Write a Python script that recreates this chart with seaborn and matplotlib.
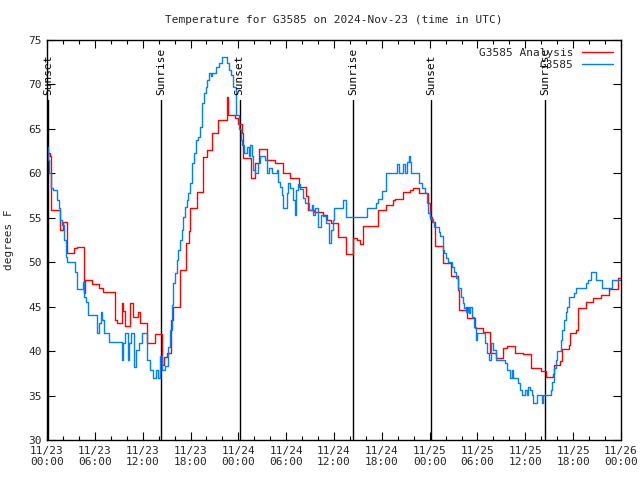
import matplotlib
matplotlib.use("Agg")
import matplotlib.pyplot as plt
from matplotlib.ticker import MultipleLocator
import seaborn as sns
import pandas as pd

sns.set_theme(style="ticks")
plt.rcParams["font.family"] = ["DejaVu Sans Mono", "DejaVu Sans"]

# hours since 2024-11-23 00:00 UTC, temperature in degrees F
analysis_hours = [
    0.0, 0.13, 0.38, 0.5, 1.63, 2.0, 2.5, 3.4, 3.75, 4.6,
    4.75, 5.65, 6.5, 7.0, 8.5, 8.8, 9.4, 9.5, 9.8, 10.4,
    10.8, 11.4, 11.65, 12.55, 13.55, 14.4, 14.7, 15.05, 15.55, 15.8,
    16.7, 17.45, 17.75, 17.95, 18.8, 19.6, 20.1, 20.7, 21.45, 22.6,
    22.7, 23.6, 24.0, 24.45, 24.6, 25.6, 26.1, 26.6, 27.6, 28.6,
    29.6, 30.5, 31.6, 32.5, 32.75, 33.5, 34.6, 35.1, 35.6, 36.5,
    37.5, 38.4, 38.9, 39.3, 39.65, 41.5, 42.5, 43.4, 43.65, 44.65,
    45.55, 45.9, 46.7, 47.8, 48.05, 48.3, 48.7, 49.7, 50.7, 51.55,
    51.7, 52.55, 52.7, 53.7, 54.7, 55.6, 56.35, 57.2, 57.7, 58.7,
    59.7, 60.7, 62.0, 62.6, 63.5, 63.6, 64.4, 64.6, 65.5, 65.6,
    66.4, 66.6, 67.6, 68.5, 69.5, 70.5, 71.6, 72.0,
]
analysis_temp = [
    61.8, 62.3, 62.0, 55.9, 53.6, 54.5, 51.0, 51.6, 51.7, 46.5,
    48.0, 47.5, 47.1, 46.6, 43.5, 43.2, 45.4, 44.5, 42.8, 45.4,
    43.8, 44.4, 43.2, 40.9, 41.9, 38.4, 39.3, 39.8, 43.5, 45.0,
    49.1, 52.2, 53.5, 56.1, 57.9, 61.8, 62.6, 64.5, 66.0, 68.6,
    66.6, 66.2, 65.6, 64.5, 61.7, 59.5, 61.2, 62.7, 61.5, 61.2,
    60.0, 59.5, 58.5, 57.5, 55.9, 55.6, 55.3, 54.7, 54.4, 52.8,
    50.9, 52.7, 52.5, 52.1, 54.1, 55.9, 56.4, 57.0, 57.1, 57.9,
    58.1, 58.4, 57.8, 56.7, 55.1, 54.5, 51.8, 49.9, 48.5, 46.9,
    44.6, 45.0, 43.7, 42.6, 42.2, 39.8, 39.2, 40.4, 40.6, 39.8,
    39.7, 38.1, 37.8, 37.1, 37.4, 38.4, 38.9, 40.2, 40.7, 42.0,
    42.4, 44.8, 45.5, 46.0, 46.3, 47.0, 48.2, 48.2,
]

obs_hours = [
    0.0, 0.13, 0.25, 0.5, 0.75, 1.25, 1.5, 1.63, 1.88, 2.13,
    2.38, 2.5, 3.5, 3.75, 4.5, 4.63, 4.88, 5.13, 6.25, 6.5,
    6.75, 6.88, 7.13, 7.75, 9.38, 9.5, 9.75, 10.13, 10.25, 10.5,
    10.88, 11.13, 11.5, 11.88, 12.5, 12.88, 13.25, 13.63, 13.88, 14.13,
    14.38, 14.75, 15.13, 15.38, 15.63, 15.75, 16.0, 16.25, 16.38, 16.63,
    16.88, 17.0, 17.25, 17.5, 17.63, 17.88, 18.13, 18.25, 18.5, 18.75,
    18.88, 19.13, 19.38, 19.5, 19.75, 20.0, 20.13, 20.38, 20.63, 20.75,
    21.25, 21.63, 22.0, 22.63, 22.88, 23.13, 23.38, 23.75, 24.13, 24.38,
    24.5, 24.75, 25.13, 25.38, 25.5, 25.75, 25.88, 26.13, 26.5, 26.75,
    27.38, 27.63, 27.88, 28.25, 28.88, 29.0, 29.25, 29.5, 29.63, 30.13,
    30.25, 30.5, 30.88, 31.13, 31.25, 31.5, 31.75, 32.13, 32.38, 32.88,
    33.25, 33.38, 33.63, 34.0, 34.38, 34.63, 35.0, 35.38, 35.63, 35.88,
    36.0, 37.13, 37.5, 40.13, 41.25, 41.5, 42.0, 42.5, 43.88, 44.13,
    44.63, 44.88, 45.13, 45.38, 45.5, 45.63, 46.63, 47.0, 47.38, 47.63,
    47.75, 48.0, 48.38, 48.5, 49.13, 49.25, 49.63, 49.75, 50.0, 50.25,
    50.75, 51.0, 51.25, 51.5, 51.88, 52.13, 52.25, 52.5, 52.75, 52.88,
    53.0, 53.25, 53.5, 53.75, 54.0, 54.88, 55.25, 55.5, 55.75, 56.0,
    56.38, 57.5, 57.75, 58.13, 58.38, 58.5, 59.13, 59.38, 59.63, 60.0,
    60.25, 60.38, 60.63, 60.88, 61.0, 61.5, 62.13, 62.25, 63.25, 63.38,
    63.63, 63.88, 64.0, 64.5, 64.63, 64.88, 65.13, 65.25, 65.5, 66.13,
    66.38, 67.63, 67.88, 68.25, 68.88, 69.63, 70.88, 72.0,
]
obs_temp = [
    63.0, 61.5, 60.0, 58.4, 58.1, 57.0, 56.1, 54.7, 54.2, 52.5,
    50.6, 50.0, 48.9, 47.0, 47.8, 46.1, 45.5, 44.1, 42.0, 43.2,
    44.4, 43.5, 42.0, 41.0, 39.0, 40.9, 42.0, 39.0, 40.9, 42.0,
    38.2, 40.1, 40.9, 42.0, 39.0, 37.9, 37.0, 37.9, 37.0, 39.4,
    37.9, 38.3, 40.5, 42.4, 45.2, 47.7, 48.8, 50.3, 51.4, 52.5,
    53.6, 55.1, 56.2, 57.0, 57.8, 58.9, 60.4, 61.2, 62.3, 63.8,
    64.1, 65.2, 66.8, 67.9, 69.0, 69.7, 70.5, 71.3, 70.9, 71.3,
    72.0, 72.4, 73.1, 72.4, 71.6, 71.1, 69.7, 66.6, 65.0, 63.8,
    63.2, 62.3, 63.0, 62.0, 63.2, 62.0, 60.4, 60.0, 61.2, 62.0,
    61.5, 60.0, 60.6, 60.0, 60.4, 59.0, 58.5, 57.6, 56.1, 57.8,
    58.9, 58.3, 57.0, 55.3, 58.1, 58.8, 58.2, 57.2, 56.7, 55.9,
    56.4, 55.3, 56.1, 54.0, 55.3, 55.2, 54.4, 52.2, 53.6, 54.7,
    56.1, 57.0, 55.1, 56.1, 56.7, 57.1, 58.0, 60.0, 61.0, 60.0,
    61.0, 60.0, 61.3, 62.0, 61.3, 60.0, 58.9, 58.4, 57.8, 56.7,
    55.5, 54.9, 54.5, 54.0, 53.4, 53.0, 51.4, 51.0, 50.5, 50.0,
    49.5, 48.9, 48.2, 47.1, 46.1, 45.4, 44.8, 44.4, 45.0, 44.3,
    45.0, 43.8, 42.7, 41.2, 42.0, 40.9, 39.8, 39.0, 40.9, 40.1,
    39.0, 38.7, 37.9, 37.0, 37.9, 37.0, 36.4, 35.6, 35.1, 35.6,
    35.1, 36.0, 35.6, 35.1, 34.2, 35.1, 34.2, 35.1, 35.6, 36.5,
    38.1, 39.0, 40.0, 41.3, 42.4, 43.5, 44.4, 45.0, 46.1, 46.5,
    47.1, 47.7, 48.0, 48.9, 48.0, 47.1, 48.0, 48.0,
]

sun_hours = [0.15, 14.3, 24.15, 38.4, 48.15, 62.45]
sun_labels = ["Sunset", "Sunrise", "Sunset", "Sunrise", "Sunset", "Sunrise"]

tick_hours = list(range(0, 73, 6))
tick_labels = ["11/23\n00:00", "11/23\n06:00", "11/23\n12:00", "11/23\n18:00",
               "11/24\n00:00", "11/24\n06:00", "11/24\n12:00", "11/24\n18:00",
               "11/25\n00:00", "11/25\n06:00", "11/25\n12:00", "11/25\n18:00",
               "11/26\n00:00"]

analysis = pd.DataFrame({"hour": analysis_hours, "temp": analysis_temp})
obs = pd.DataFrame({"hour": obs_hours, "temp": obs_temp})

fig = plt.figure(figsize=(6.4, 4.8), dpi=100)
ax = fig.add_axes([47 / 640, 40 / 480, 574 / 640, 400 / 480])

# sunrise / sunset markers
for h, lab in zip(sun_hours, sun_labels):
    ax.plot([h, h], [30, 68.3], color="black", lw=1.0, zorder=1)
    ax.text(h, 68.8, lab, rotation=90, ha="center", va="bottom",
            fontsize=8, color="black")

sns.lineplot(data=analysis, x="hour", y="temp", ax=ax, color="#ff0000",
             lw=1.0, drawstyle="steps-post", label="G3585 Analysis")
sns.lineplot(data=obs, x="hour", y="temp", ax=ax, color="#0080ff",
             lw=1.0, drawstyle="steps-post", label="G3585")

ax.set_xlim(0, 72)
ax.set_ylim(30, 75)
ax.set_xticks(tick_hours)
ax.set_xticklabels(tick_labels, fontsize=8)
ax.xaxis.set_minor_locator(MultipleLocator(2))
ax.set_yticks(range(30, 76, 5))
ax.tick_params(axis="y", labelsize=8)
ax.tick_params(which="both", direction="in", top=True, right=True, color="black")
ax.tick_params(which="major", length=6, width=0.8, pad=4)
ax.tick_params(which="minor", length=3, width=0.8)
for s in ax.spines.values():
    s.set_color("black")
    s.set_linewidth(1.0)

ax.set_xlabel("")
ax.set_ylabel("degrees F", fontsize=8, labelpad=10)
ax.set_title("Temperature for G3585 on 2024-Nov-23 (time in UTC)",
             fontsize=8, pad=12)

ax.legend(loc="upper right", frameon=False, fontsize=8, markerfirst=False,
          handlelength=2.8, borderaxespad=0.3, labelspacing=0.2)

fig.savefig("out.png", dpi=100)
